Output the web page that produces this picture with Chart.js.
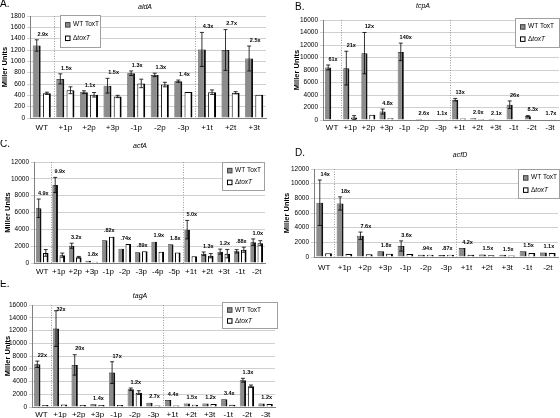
<!DOCTYPE html>
<html>
<head>
<meta charset="UTF-8">
<title>toxT promoter panels</title>
<script src="https://cdn.jsdelivr.net/npm/chart.js"></script>
<style>
  body { margin: 0; background: #fff; width: 560px; height: 418px; position: relative; overflow: hidden; }
  canvas { position: absolute; }
</style>
</head>
<body>
<canvas id="chartA" width="280" height="140" style="left:0;top:0"></canvas>
<canvas id="chartB" width="280" height="140" style="left:280px;top:0"></canvas>
<canvas id="chartC" width="280" height="140" style="left:0;top:140px"></canvas>
<canvas id="chartD" width="280" height="140" style="left:280px;top:140px"></canvas>
<canvas id="chartE" width="280" height="138" style="left:0;top:280px"></canvas>

<script>
// A. aldA
const aCats = ['WT', '+1p', '+2p', '+3p', '-1p', '-2p', '-3p', '+1t', '+2t', '+3t'];
const aWT = [1280, 690, 455, 570, 790, 760, 650, 1210, 1200, 1050];
const aWTErr = [100, 90, 25, 130, 40, 30, 20, 300, 360, 220];
const aDel = [435, 490, 410, 380, 610, 590, 460, 455, 445, 410];
const aDelErr = [20, 60, 40, 20, 75, 40, 0, 40, 20, 0];
const aFold = ['2.9x', '1.5x', '1.1x', '1.5x', '1.3x', '1.3x', '1.4x', '4.3x', '2.7x', '2.5x'];

// B. tcpA
const bCats = ['WT', '+1p', '+2p', '+3p', '-1p', '-2p', '-3p', '+1t', '+2t', '+3t', '-1t', '-2t', '-3t'];
const bWT = [8400, 8300, 10700, 1350, 10900, 150, 70, 3250, 300, 150, 2450, 600, 100];
const bWTErr = [400, 2700, 3300, 400, 1400, 0, 0, 200, 0, 0, 600, 100, 0];
const bDel = [60, 400, 850, 300, 80, 60, 60, 250, 150, 70, 90, 70, 60];
const bDelErr = [0, 300, 0, 0, 0, 0, 0, 0, 0, 0, 0, 0, 0];
const bFold = ['61x', '21x', '12x', '4.8x', '140x', '2.6x', '1.1x', '13x', '2.0x', '2.1x', '26x', '8.3x', '1.7x'];

// C. acfA
const cCats = ['WT', '+1p', '+2p', '+3p', '-1p', '-2p', '-3p', '-4p', '-5p', '+1t', '+2t', '+3t', '-1t', '-2t'];
const cWT = [6500, 9270, 2050, 280, 2690, 1700, 1270, 2530, 2220, 3960, 1110, 1350, 1390, 2460];
const cWTErr = [1100, 900, 300, 0, 0, 0, 0, 0, 0, 1100, 200, 300, 200, 400];
const cDel = [1200, 930, 680, 160, 3130, 2250, 1400, 1330, 1250, 800, 870, 1110, 1580, 2350];
const cDelErr = [400, 250, 100, 0, 0, 0, 0, 0, 0, 0, 250, 500, 300, 300];
const cFold = ['4.9x', '9.9x', '3.2x', '1.8x', '.82x', '.74x', '.89x', '1.9x', '1.8x', '5.0x', '1.3x', '1.2x', '.88x', '1.0x'];

// D. acfD
const dCats = ['WT', '+1p', '+2p', '+3p', '-1p', '-2p', '-3p', '+1t', '+2t', '+3t', '-1t', '-2t'];
const dWT = [7400, 7300, 2900, 780, 1500, 300, 280, 1240, 340, 300, 800, 600];
const dWTErr = [3100, 900, 500, 0, 700, 0, 0, 0, 0, 0, 0, 0];
const dDel = [500, 400, 380, 430, 400, 320, 320, 290, 230, 200, 530, 545];
const dDelErr = [0, 0, 0, 0, 0, 0, 0, 0, 0, 0, 0, 0];
const dFold = ['14x', '18x', '7.6x', '1.8x', '3.6x', '.94x', '.87x', '4.2x', '1.5x', '1.5x', '1.5x', '1.1x'];

// E. tagA
const eCats = ['WT', '+1p', '+2p', '+3p', '-1p', '-2p', '-3p', '+1t', '+2t', '+3t', '-1t', '-2t', '-3t'];
const eWT = [6700, 12300, 6600, 450, 5400, 2780, 680, 1100, 550, 550, 1200, 4200, 550];
const eWTErr = [500, 2800, 1600, 0, 1700, 200, 0, 0, 0, 0, 0, 300, 0];
const eDel = [300, 380, 330, 320, 320, 2250, 250, 250, 370, 460, 350, 3250, 460];
const eDelErr = [0, 0, 0, 0, 0, 300, 0, 0, 0, 0, 0, 200, 0];
const eFold = ['22x', '32x', '20x', '1.4x', '17x', '1.2x', '2.7x', '4.4x', '1.5x', '1.2x', '3.4x', '1.3x', '1.2x'];

const FONT = '"Liberation Sans", Arial, sans-serif';
const GRAY = '#8c8c8c';

// error bars, fold labels, separators, legend, panel letter and title
const panelDecor = {
  id: 'panelDecor',
  beforeDatasetsDraw(chart, args, o) {
    const ctx = chart.ctx, x = chart.scales.x, a = chart.chartArea;
    ctx.save();
    ctx.strokeStyle = '#9a9a9a';
    ctx.lineWidth = 1;
    ctx.setLineDash([1, 1.5]);
    o.seps.forEach(i => {
      const px = Math.round((x.getPixelForValue(i - 1) + x.getPixelForValue(i)) / 2) + 0.5;
      ctx.beginPath();
      ctx.moveTo(px, a.top);
      ctx.lineTo(px, a.bottom);
      ctx.stroke();
    });
    ctx.restore();
  },
  afterDatasetsDraw(chart, args, o) {
    const ctx = chart.ctx, x = chart.scales.x, y = chart.scales.y, a = chart.chartArea;
    ctx.save();
    ctx.strokeStyle = '#000';
    ctx.lineWidth = 0.8;
    const tops = [];
    chart.data.datasets.forEach((ds, di) => {
      const meta = chart.getDatasetMeta(di);
      meta.data.forEach((bar, i) => {
        const v = ds.data[i], e = ds.err[i];
        const top = y.getPixelForValue(v + e);
        tops[i] = Math.min(tops[i] === undefined ? Infinity : tops[i], top);
        if (!e) return;
        const bot = y.getPixelForValue(Math.max(v - e, 0));
        const cx = bar.x;
        ctx.beginPath();
        ctx.moveTo(cx, top); ctx.lineTo(cx, bot);
        ctx.moveTo(cx - 2, top); ctx.lineTo(cx + 2, top);
        ctx.moveTo(cx - 2, bot); ctx.lineTo(cx + 2, bot);
        ctx.stroke();
      });
    });
    // fold change labels
    ctx.fillStyle = '#000';
    ctx.font = 'bold 5.5px ' + FONT;
    ctx.textAlign = 'center';
    ctx.textBaseline = 'bottom';
    o.fold.forEach((t, i) => {
      const px = x.getPixelForValue(i) + 1;
      const py = Math.max(tops[i] - 3, a.top + 7);
      ctx.fillText(t, px, py);
    });
    ctx.restore();
  },
  afterDraw(chart, args, o) {
    const ctx = chart.ctx;
    ctx.save();
    ctx.fillStyle = '#000';
    ctx.textBaseline = 'top';
    ctx.textAlign = 'left';
    ctx.font = '10px ' + FONT;
    ctx.fillText(o.letter, o.letterPos[0], o.letterPos[1]);
    ctx.font = 'italic 7px ' + FONT;
    ctx.textAlign = 'center';
    ctx.textBaseline = 'middle';
    ctx.fillText(o.title, o.titlePos[0], o.titlePos[1]);
    // legend
    const [lx, ly, lw, lh] = o.legend;
    ctx.fillStyle = '#fff';
    ctx.fillRect(lx, ly, lw, lh);
    ctx.strokeStyle = '#a0a0a0';
    ctx.lineWidth = 1;
    ctx.strokeRect(lx + 0.5, ly + 0.5, lw, lh);
    const r1 = ly + lh * 0.3, r2 = ly + lh * 0.72;
    ctx.fillStyle = GRAY;
    ctx.fillRect(lx + 5, r1 - 2.5, 5, 5);
    ctx.strokeStyle = '#444';
    ctx.strokeRect(lx + 5.5, r1 - 2, 4.5, 4.5);
    ctx.fillStyle = '#fff';
    ctx.fillRect(lx + 5, r2 - 2.5, 5, 5);
    ctx.strokeStyle = '#000';
    ctx.strokeRect(lx + 5.5, r2 - 2, 4.5, 4.5);
    ctx.fillStyle = '#000';
    ctx.textAlign = 'left';
    ctx.font = '6.5px ' + FONT;
    ctx.fillText('WT ToxT', lx + 13, r1);
    ctx.fillText('\u0394', lx + 13, r2);
    const dw = ctx.measureText('\u0394').width;
    ctx.font = 'italic 6.5px ' + FONT;
    ctx.fillText('toxT', lx + 13 + dw, r2);
    ctx.restore();
  }
};

function makeChart(id, cats, wt, wtErr, del, delErr, fold, yMax, box) {
  const config = {
    type: 'bar',
    data: {
      labels: cats,
      datasets: [
        { label: 'WT ToxT', data: wt, err: wtErr, backgroundColor: GRAY, borderColor: '#111',
          borderWidth: { left: 0.5, top: 0.8, right: 2, bottom: 0 }, borderSkipped: false },
        { label: '\u0394toxT', data: del, err: delErr, backgroundColor: '#fff', borderColor: '#000',
          borderWidth: { left: 1, top: 1, right: 2, bottom: 0 }, borderSkipped: false }
      ]
    },
    options: {
      responsive: false,
      animation: false,
      devicePixelRatio: 1,
      categoryPercentage: 0.86,
      barPercentage: 0.78,
      layout: {
        autoPadding: false,
        padding: { left: box.padLeft, top: box.padTop, right: box.padRight, bottom: 0 }
      },
      plugins: {
        legend: { display: false },
        tooltip: { enabled: false },
        panelDecor: { fold: fold, seps: box.seps, legend: box.legend, letter: box.letter,
          letterPos: box.letterPos, title: box.title, titlePos: box.titlePos }
      },
      scales: {
        x: {
          grid: { display: false, drawTicks: false },
          border: { color: '#808080' },
          ticks: { autoSkip: false, maxRotation: 0, padding: box.tickPad, color: '#000',
            font: { family: FONT, size: 8 } },
          afterFit: s => { s.height = box.xHeight; }
        },
        y: {
          min: 0, max: yMax,
          grid: { color: '#d0d0d0', tickLength: 3 },
          border: { color: '#808080' },
          ticks: { stepSize: box.step, padding: 2, color: '#000', font: { family: FONT, size: 6.5 },
            callback: v => String(v) },
          title: { display: true, text: 'Miller Units', padding: 0, color: '#000',
            font: { family: FONT, size: 7.5, weight: 'bold' } },
          afterFit: s => { s.width = box.yWidth; }
        }
      }
    },
    plugins: [panelDecor]
  };
  return new Chart(document.getElementById(id), config);
}

makeChart('chartA', aCats, aWT, aWTErr, aDel, aDelErr, aFold, 1800, {
  step: 200, padLeft: 0, yWidth: 30, padTop: 16, padRight: 14, xHeight: 22, tickPad: 5,
  seps: [1, 7], legend: [60, 15, 40, 32], letter: 'A.', letterPos: [0, -1],
  title: 'aldA', titlePos: [145, 7]
});
makeChart('chartB', bCats, bWT, bWTErr, bDel, bDelErr, bFold, 16000, {
  step: 2000, padLeft: 12, yWidth: 31, padTop: 20, padRight: 1, xHeight: 20, tickPad: 3,
  seps: [1, 7], legend: [235, 18, 44, 29], letter: 'B.', letterPos: [15, 2],
  title: 'tcpA', titlePos: [143, 6]
});
makeChart('chartC', cCats, cWT, cWTErr, cDel, cDelErr, cFold, 12000, {
  step: 2000, padLeft: 3, yWidth: 31, padTop: 22, padRight: 15, xHeight: 17, tickPad: 4,
  seps: [1, 9], legend: [222, 22, 42, 28], letter: 'C.', letterPos: [0, -1],
  title: 'acfA', titlePos: [140, 6]
});
makeChart('chartD', dCats, dWT, dWTErr, dDel, dDelErr, dFold, 12000, {
  step: 2000, padLeft: 2, yWidth: 32, padTop: 29, padRight: 2, xHeight: 23, tickPad: 6,
  seps: [1, 7], legend: [238, 29, 41, 29], letter: 'D.', letterPos: [15, 8],
  title: 'acfD', titlePos: [180, 15]
});
makeChart('chartE', eCats, eWT, eWTErr, eDel, eDelErr, eFold, 16000, {
  step: 2000, padLeft: 3, yWidth: 29, padTop: 25, padRight: 5, xHeight: 11, tickPad: 3,
  seps: [1, 7], legend: [222, 22, 55, 26], letter: 'E.', letterPos: [0, -1],
  title: 'tagA', titlePos: [140, 16]
});
</script>
</body>
</html>
